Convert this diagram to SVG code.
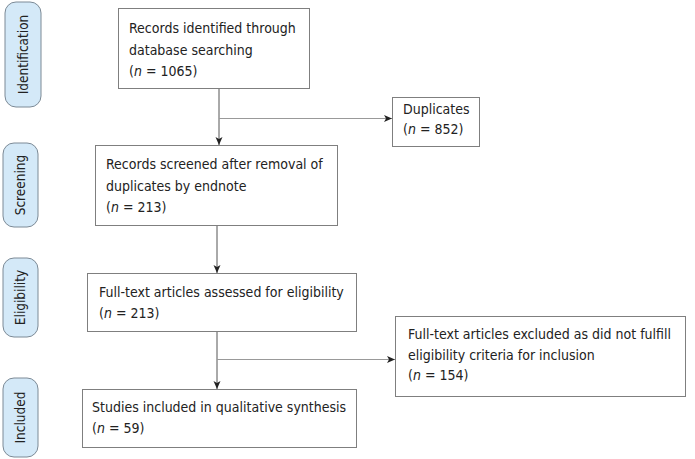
<svg xmlns="http://www.w3.org/2000/svg" width="695" height="459" viewBox="0 0 695 459">
<defs>
<marker id="ah" viewBox="0 0 8 8" refX="8" refY="4" markerWidth="8" markerHeight="8" markerUnits="userSpaceOnUse" orient="auto">
<path d="M0,0.5 L8,4 L0,7.5 L2,4 Z" fill="#222"/>
</marker>
<style>
.box{fill:#fff;stroke:#7f7f7f;stroke-width:1}
.side{fill:#d4e9f8;stroke:#7c8a96;stroke-width:1}
.t{font-family:"DejaVu Sans Condensed","DejaVu Sans",sans-serif;font-size:14px;fill:#222}
.st{font-family:"DejaVu Sans Condensed","DejaVu Sans",sans-serif;font-size:13.5px;fill:#222;text-anchor:middle}
.ln{fill:none;stroke:#555;stroke-width:1}
.lb{fill:none;stroke:#999;stroke-width:1}
</style>
</defs>
<rect width="695" height="459" fill="#fff"/>
<g id="side-identification"><rect class="side" x="5" y="2" width="36" height="105" rx="11"/><text class="st" transform="translate(27.5,54.5) rotate(-90)">Identification</text></g>
<g id="side-screening"><rect class="side" x="3" y="143" width="35" height="84" rx="11"/><text class="st" transform="translate(25,185) rotate(-90)">Screening</text></g>
<g id="side-eligibility"><rect class="side" x="3" y="258" width="35" height="79" rx="11"/><text class="st" transform="translate(25,297.5) rotate(-90)">Eligibility</text></g>
<g id="side-included"><rect class="side" x="3" y="378" width="35" height="79" rx="11"/><text class="st" transform="translate(25,417.5) rotate(-90)">Included</text></g>

<g id="connectors">
<line class="ln" x1="219" y1="88" x2="219" y2="145" marker-end="url(#ah)"/>
<line class="lb" x1="219" y1="118.5" x2="392" y2="118.5" marker-end="url(#ah)"/>
<line class="ln" x1="217" y1="225" x2="217" y2="273" marker-end="url(#ah)"/>
<line class="ln" x1="217" y1="331" x2="217" y2="389" marker-end="url(#ah)"/>
<line class="lb" x1="217" y1="359.5" x2="395" y2="359.5" marker-end="url(#ah)"/>
</g>

<g id="node-identified"><rect class="box" x="118.5" y="8.5" width="191" height="80"/>
<text class="t" x="129" y="33">Records identified through</text>
<text class="t" x="129" y="54.5">database searching</text>
<text class="t" x="129" y="76">(<tspan font-style="italic">n</tspan> = 1065)</text></g>

<g id="node-duplicates"><rect class="box" x="392.5" y="97.5" width="87" height="49"/>
<text class="t" x="403" y="114">Duplicates</text>
<text class="t" x="403" y="134">(<tspan font-style="italic">n</tspan> = 852)</text></g>

<g id="node-screened"><rect class="box" x="95.5" y="145.5" width="242" height="80"/>
<text class="t" x="106" y="169">Records screened after removal of</text>
<text class="t" x="106" y="190.5">duplicates by endnote</text>
<text class="t" x="106" y="212">(<tspan font-style="italic">n</tspan> = 213)</text></g>

<g id="node-assessed"><rect class="box" x="87.5" y="273.5" width="269" height="58"/>
<text class="t" x="99" y="297">Full-text articles assessed for eligibility</text>
<text class="t" x="99" y="318">(<tspan font-style="italic">n</tspan> = 213)</text></g>

<g id="node-excluded"><rect class="box" x="395.5" y="316.5" width="290" height="80"/>
<text class="t" x="408" y="339">Full-text articles excluded as did not fulfill</text>
<text class="t" x="408" y="359.5">eligibility criteria for inclusion</text>
<text class="t" x="408" y="380">(<tspan font-style="italic">n</tspan> = 154)</text></g>

<g id="node-included"><rect class="box" x="82.5" y="389.5" width="274" height="58"/>
<text class="t" x="92" y="412">Studies included in qualitative synthesis</text>
<text class="t" x="92" y="433">(<tspan font-style="italic">n</tspan> = 59)</text></g>
</svg>
